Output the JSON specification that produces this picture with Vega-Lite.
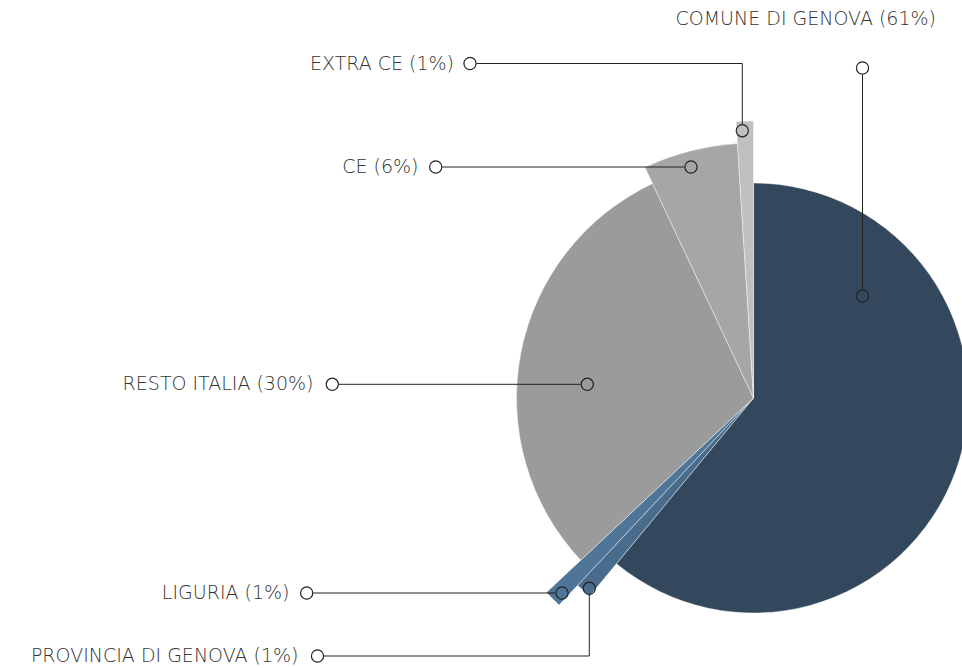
{
  "$schema": "https://vega.github.io/schema/vega-lite/v6.json",
  "width": 962,
  "height": 668,
  "padding": 0,
  "autosize": "none",
  "background": "#ffffff",
  "config": {"view": {"stroke": null}},
  "datasets": {
    "slices": [
      {"name": "COMUNE DI GENOVA", "pct": 61, "z": 215, "idx": 1},
      {"name": "PROVINCIA DI GENOVA", "pct": 1, "z": 257, "idx": 2},
      {"name": "LIGURIA", "pct": 1, "z": 284, "idx": 3},
      {"name": "RESTO ITALIA", "pct": 30, "z": 237, "idx": 4},
      {"name": "CE", "pct": 6, "z": 255, "idx": 5},
      {"name": "EXTRA CE", "pct": 1, "z": 277, "idx": 6}
    ],
    "leaders": [
      {"name": "EXTRA CE", "seq": 1, "x": -277, "y": 334.5},
      {"name": "EXTRA CE", "seq": 2, "x": -11.2, "y": 334.5},
      {"name": "EXTRA CE", "seq": 3, "x": -11.2, "y": 273.8},
      {"name": "CE", "seq": 1, "x": -311.3, "y": 231},
      {"name": "CE", "seq": 2, "x": -69, "y": 231},
      {"name": "RESTO ITALIA", "seq": 1, "x": -414.7, "y": 13.7},
      {"name": "RESTO ITALIA", "seq": 2, "x": -172.7, "y": 13.7},
      {"name": "LIGURIA", "seq": 1, "x": -440.3, "y": -195},
      {"name": "LIGURIA", "seq": 2, "x": -198, "y": -195},
      {"name": "PROVINCIA DI GENOVA", "seq": 1, "x": -429.5, "y": -258},
      {"name": "PROVINCIA DI GENOVA", "seq": 2, "x": -164.2, "y": -258},
      {"name": "PROVINCIA DI GENOVA", "seq": 3, "x": -164.2, "y": -196.8},
      {"name": "COMUNE DI GENOVA", "seq": 1, "x": 109, "y": 323.5},
      {"name": "COMUNE DI GENOVA", "seq": 2, "x": 109, "y": 108.5}
    ],
    "dots": [
      {"name": "EXTRA CE", "x": -283.5, "y": 334.5},
      {"name": "EXTRA CE", "x": -11.2, "y": 267.3},
      {"name": "CE", "x": -317.8, "y": 231},
      {"name": "CE", "x": -62.5, "y": 231},
      {"name": "RESTO ITALIA", "x": -421.2, "y": 13.7},
      {"name": "RESTO ITALIA", "x": -166.2, "y": 13.7},
      {"name": "LIGURIA", "x": -446.8, "y": -195},
      {"name": "LIGURIA", "x": -191.5, "y": -195},
      {"name": "PROVINCIA DI GENOVA", "x": -436, "y": -258},
      {"name": "PROVINCIA DI GENOVA", "x": -164.2, "y": -190.3},
      {"name": "COMUNE DI GENOVA", "x": 109, "y": 330},
      {"name": "COMUNE DI GENOVA", "x": 109, "y": 102}
    ],
    "labels": [
      {"label": "EXTRA CE (1%)", "x": -299.5, "y": 334.5},
      {"label": "CE (6%)", "x": -335, "y": 231},
      {"label": "RESTO ITALIA (30%)", "x": -440, "y": 13.7},
      {"label": "LIGURIA (1%)", "x": -464, "y": -195},
      {"label": "PROVINCIA DI GENOVA (1%)", "x": -455, "y": -258},
      {"label": "COMUNE DI GENOVA (61%)", "x": 182.5, "y": 379}
    ]
  },
  "layer": [
    {
      "data": {"name": "slices"},
      "transform": [
        {"stack": "pct", "groupby": [], "sort": [{"field": "idx", "order": "ascending"}], "as": ["t0", "t1"]}
      ],
      "mark": {"type": "arc", "stroke": "#ffffff", "strokeWidth": 0.6, "strokeOpacity": 0.7},
      "encoding": {
        "x": {"datum": 0, "type": "quantitative", "scale": {"domain": [-753.5, 208.5], "nice": false, "zero": false}, "axis": null},
        "y": {"datum": 0, "type": "quantitative", "scale": {"domain": [-270, 398], "nice": false, "zero": false}, "axis": null},
        "theta": {"field": "t0", "type": "quantitative", "stack": null, "scale": {"type": "linear", "domain": [0, 100], "range": [0, 6.283185307179586], "nice": false, "zero": true}},
        "theta2": {"field": "t1"},
        "radius": {"field": "z", "type": "quantitative", "scale": {"type": "linear", "zero": true, "domain": [0, 300], "range": [0, 300]}},
        "color": {
          "field": "name", "type": "nominal", "legend": null,
          "scale": {
            "domain": ["COMUNE DI GENOVA", "PROVINCIA DI GENOVA", "LIGURIA", "RESTO ITALIA", "CE", "EXTRA CE"],
            "range": ["#33485d", "#4a6c8c", "#4f7598", "#9a9c9b", "#a6a6a6", "#bfc0c2"]
          }
        }
      }
    },
    {
      "data": {"name": "leaders"},
      "mark": {"type": "line", "color": "#222222", "strokeWidth": 1},
      "encoding": {
        "x": {"field": "x", "type": "quantitative", "axis": null},
        "y": {"field": "y", "type": "quantitative", "axis": null},
        "detail": {"field": "name", "type": "nominal"},
        "order": {"field": "seq", "type": "quantitative"}
      }
    },
    {
      "data": {"name": "dots"},
      "mark": {"type": "point", "shape": "circle", "filled": false, "size": 148, "stroke": "#222222", "strokeWidth": 1.2, "opacity": 1},
      "encoding": {
        "x": {"field": "x", "type": "quantitative", "axis": null},
        "y": {"field": "y", "type": "quantitative", "axis": null}
      }
    },
    {
      "data": {"name": "labels"},
      "mark": {"type": "text", "align": "right", "baseline": "middle", "font": "DejaVu Sans", "fontSize": 19, "fontWeight": 300, "color": "#333333"},
      "encoding": {
        "x": {"field": "x", "type": "quantitative", "axis": null},
        "y": {"field": "y", "type": "quantitative", "axis": null},
        "text": {"field": "label", "type": "nominal"}
      }
    }
  ]
}
